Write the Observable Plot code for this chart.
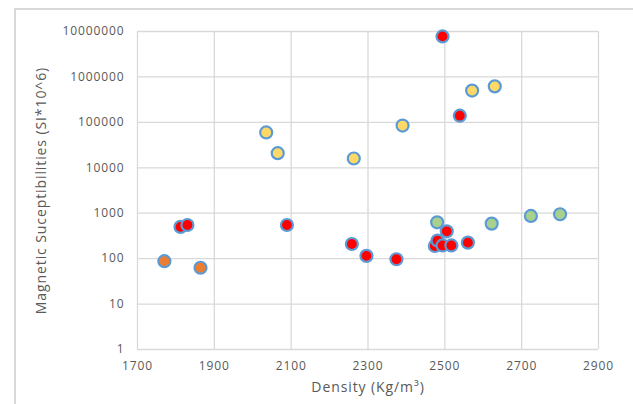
<!DOCTYPE html>
<html>
<head>
<meta charset="utf-8">
<script src="https://cdn.jsdelivr.net/npm/d3@7"></script>
<script src="https://cdn.jsdelivr.net/npm/@observablehq/plot@0.6"></script>
<style>
  html, body { margin: 0; padding: 0; background: #fff; overflow: hidden; }
  #frame { position: absolute; left: 14px; top: 8px; width: 700px; height: 500px; border: 2px solid #d9d9d9; box-sizing: border-box; }
  #chart { position: absolute; left: 0; top: 0; }
  #chart text { letter-spacing: 0.9px; }
</style>
</head>
<body>
<div id="frame"></div>
<div id="chart"></div>
<script>
// Density (Kg/m³) and magnetic susceptibility (SI*10^6), grouped by series
const seriesADensity = [1770, 1864];
const seriesASusc    = [88, 63];

const seriesBDensity = [2035, 2065, 2263, 2390, 2571, 2630];
const seriesBSusc    = [60000, 21000, 16000, 85000, 500000, 620000];

const seriesCDensity = [2480, 2622, 2724, 2800];
const seriesCSusc    = [630, 590, 870, 950];

const seriesDDensity = [1812, 1830, 2089, 2258, 2296, 2374, 2494, 2539, 2474, 2481, 2494, 2505, 2517, 2560];
const seriesDSusc    = [500, 550, 550, 210, 115, 97, 7800000, 140000, 190, 250, 195, 400, 195, 225];

const seriesNames  = ["A", "B", "C", "D"];
const seriesColors = ["#ed7d31", "#ffd966", "#a9d18e", "#ff0000"];

const xTicks = [1700, 1900, 2100, 2300, 2500, 2700, 2900];
const yTicks = [1, 10, 100, 1000, 10000, 100000, 1000000, 10000000];

const toRows = (name, xs, ys) => xs.map((x, i) => ({series: name, density: x, susc: ys[i]}));
const data = [
  ...toRows("A", seriesADensity, seriesASusc),
  ...toRows("B", seriesBDensity, seriesBSusc),
  ...toRows("C", seriesCDensity, seriesCSusc),
  ...toRows("D", seriesDDensity, seriesDSusc)
];

const font = "'Open Sans', 'Liberation Sans', sans-serif";

const chart = Plot.plot({
  width: 633,
  height: 404,
  marginLeft: 137,
  marginRight: 35,
  marginTop: 31,
  marginBottom: 55,
  style: { fontFamily: font, fontSize: "12px", color: "#595959", background: "transparent" },
  x: { domain: [1700, 2900], label: null },
  y: { type: "log", domain: [1, 10000000], label: null },
  color: { domain: seriesNames, range: seriesColors },
  marks: [
    Plot.gridX(xTicks, { stroke: "#d9d9d9", strokeOpacity: 1, strokeWidth: 1.3 }),
    Plot.gridY(yTicks, { stroke: "#d9d9d9", strokeOpacity: 1, strokeWidth: 1.3 }),
    Plot.axisX({ ticks: xTicks, tickFormat: d3.format("d"), tickSize: 0, tickPadding: 12, fill: "#595959", label: null }),
    Plot.axisY({ ticks: yTicks, tickFormat: d3.format("d"), tickSize: 0, tickPadding: 13, fill: "#595959", label: null }),
    Plot.dot(data, { x: "density", y: "susc", fill: "series", stroke: "#5b9bd5", strokeWidth: 2.2, r: 6 }),
    Plot.text(["Density (Kg/m³)"], { frameAnchor: "bottom", dy: 42, text: d => d, fill: "#595959", fontSize: 14 }),
    Plot.text(["Magnetic Suceptibilities (SI*10^6)"], { frameAnchor: "left", textAnchor: "middle", dx: -96, rotate: -90, text: d => d, fill: "#595959", fontSize: 14 })
  ]
});
document.getElementById("chart").appendChild(chart);
</script>
</body>
</html>
